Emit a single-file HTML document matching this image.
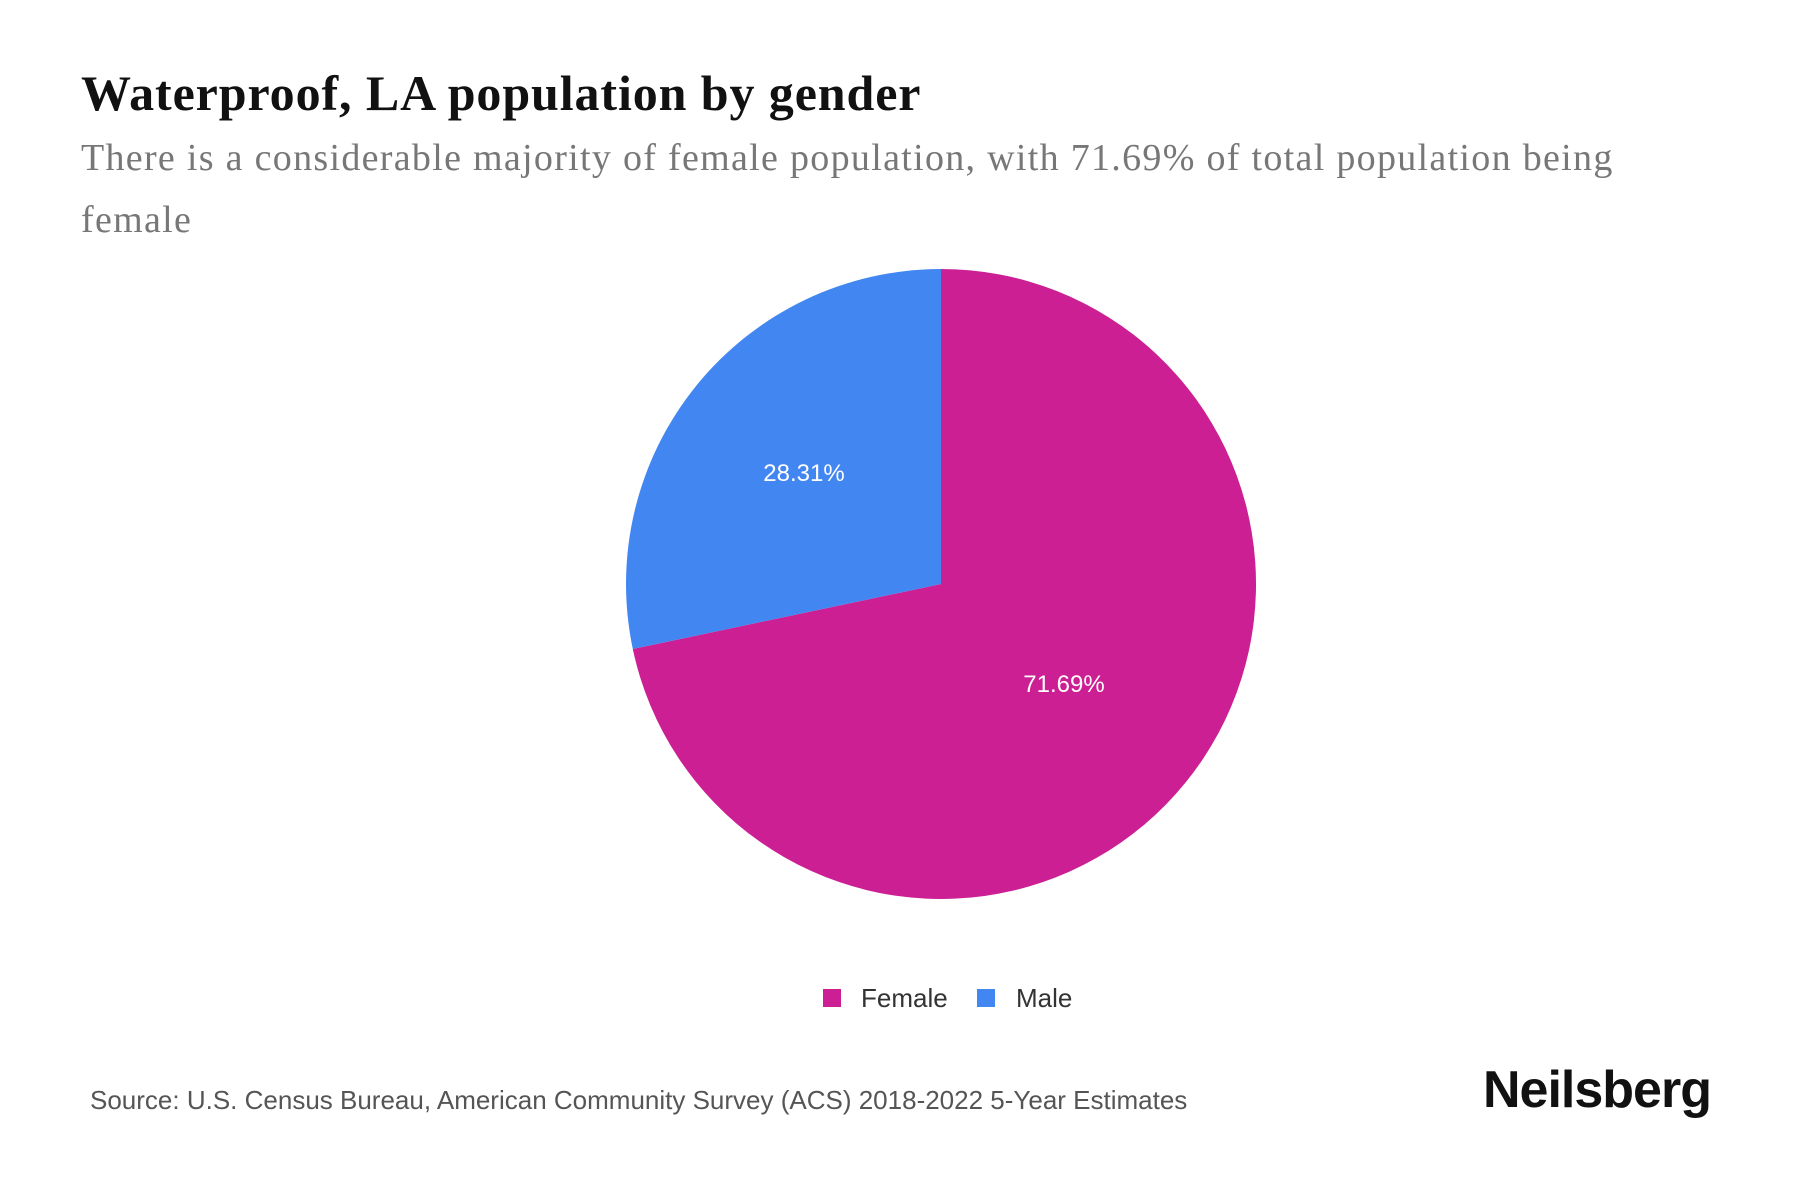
<!DOCTYPE html>
<html><head><meta charset="utf-8"><style>
body{margin:0;width:1800px;height:1200px;background:#fff;overflow:hidden;position:relative;font-family:"Liberation Sans",sans-serif}
.t{position:absolute;left:81px;top:64px;font-family:"Liberation Serif",serif;font-weight:bold;font-size:50px;letter-spacing:0.9px;color:#111}
.s{position:absolute;left:81px;top:127px;width:1640px;font-family:"Liberation Serif",serif;font-size:38px;letter-spacing:1.3px;line-height:62px;color:#777}
.src{position:absolute;left:90px;top:1085px;font-size:26px;color:#555}
.logo{position:absolute;left:1483px;top:1060px;font-size:52px;font-weight:bold;color:#111;letter-spacing:-1px}
</style></head><body>
<div class="t">Waterproof, LA population by gender</div>
<div class="s">There is a considerable majority of female population, with 71.69% of total population being female</div>
<svg width="1800" height="1200" style="position:absolute;left:0;top:0">
<path d="M941,584 L941,269 A315,315 0 1 1 632.8,649 Z" fill="#cc1f94"/>
<path d="M941,584 L632.8,649 A315,315 0 0 1 941,269 Z" fill="#4286f1"/>
<text x="804" y="481" fill="#fff" font-size="24" text-anchor="middle" font-family="Liberation Sans">28.31%</text>
<text x="1064" y="692" fill="#fff" font-size="24" text-anchor="middle" font-family="Liberation Sans">71.69%</text>
<rect x="823" y="989" width="18" height="18" fill="#cc1f94"/>
<text x="861" y="1007" font-size="26" fill="#333" font-family="Liberation Sans">Female</text>
<rect x="977" y="989" width="18" height="18" fill="#4286f1"/>
<text x="1016" y="1007" font-size="26" fill="#333" font-family="Liberation Sans">Male</text>
</svg>
<div class="src">Source: U.S. Census Bureau, American Community Survey (ACS) 2018-2022 5-Year Estimates</div>
<div class="logo">Neilsberg</div>
</body></html>
